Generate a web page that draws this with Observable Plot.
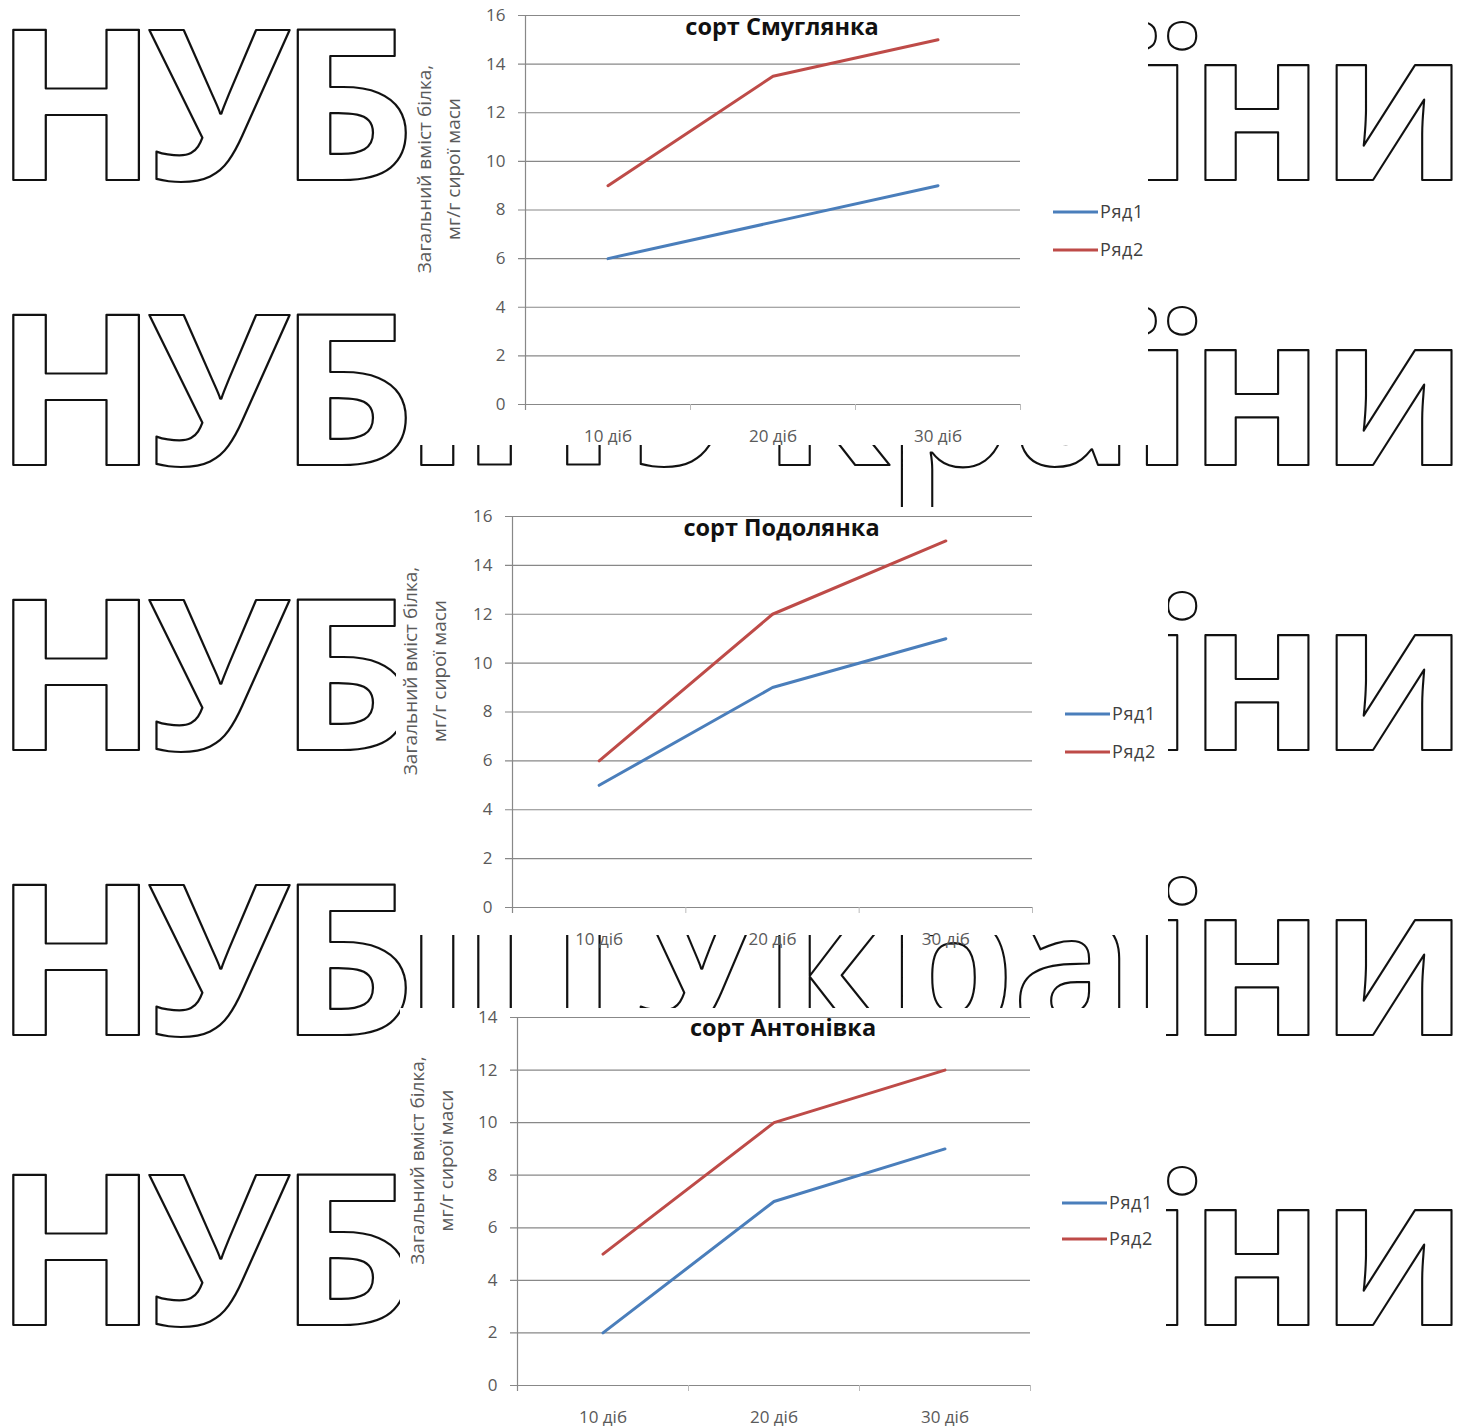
<!DOCTYPE html>
<html>
<head>
<meta charset="utf-8">
<script src="https://cdn.jsdelivr.net/npm/d3@7"></script>
<script src="https://cdn.jsdelivr.net/npm/@observablehq/plot@0.6"></script>
<style>
  html, body { margin: 0; padding: 0; background: #fff; }
  #page { position: relative; width: 1465px; height: 1426px; background: #fff; overflow: hidden; }
  #page > svg, #page > .abs { position: absolute; }
</style>
</head>
<body>
<div id="page"></div>
<script>
// ---------- data ----------
const categories = ["10 діб", "20 діб", "30 діб"];
const series = ["Ряд1", "Ряд2"];
const seriesColors = ["#4a7ebb", "#be4b48"];
const yTitle = "Загальний вміст білка,\nмг/г сирої маси";

const titleSmuglyanka = "сорт Смуглянка";
const smuglyankaRow1 = [6, 7.5, 9];
const smuglyankaRow2 = [9, 13.5, 15];

const titlePodolyanka = "сорт Подолянка";
const podolyankaRow1 = [5, 9, 11];
const podolyankaRow2 = [6, 12, 15];

const titleAntonivka = "сорт Антонівка";
const antonivkaRow1 = [2, 7, 9];
const antonivkaRow2 = [5, 10, 12];

const watermarkWords = ["НУБіП", "України"];

// ---------- watermark layer ----------
const page = d3.select("#page");
const wm = page.append("svg")
  .attr("width", 1465).attr("height", 1426)
  .style("left", "0px").style("top", "0px");

function styleWm(sel) {
  sel.attr("font-family", "Open Sans")
    .attr("font-weight", 700)
    .attr("font-size", 210)
    .attr("fill", "#fff")
    .attr("stroke", "#111")
    .attr("stroke-width", 2.2)
    .attr("stroke-linejoin", "round");
}

// measure natural word lengths to derive a tighter, wider letter layout
const probe = wm.append("text").call(styleWm);
const nat = watermarkWords.map(w => { probe.text(w); return probe.node().getComputedTextLength(); });
probe.remove();
const wordSpec = [
  {x: -6, len: 614, scale: (592 / nat[0]) * 1.13},
  {x: 632, len: 832, scale: (816 / nat[1]) * 1.05}
];
wordSpec.forEach((s, k) => {
  s.ls = (s.len / s.scale - nat[k]) / watermarkWords[k].length;
});

const baselines = [180, 465, 750, 1035, 1325];
baselines.forEach(b => {
  watermarkWords.forEach((w, k) => {
    wm.append("text").text(w)
      .attr("x", wordSpec[k].x).attr("y", b)
      .attr("letter-spacing", wordSpec[k].ls)
      .attr("textLength", wordSpec[k].len).attr("lengthAdjust", "spacingAndGlyphs")
      .call(styleWm);
  });
});

// white chart areas covering the watermark
[[413, 0, 735, 445], [396, 507, 772, 428], [400, 1008, 766, 418]].forEach(([x, y, w, h]) =>
  wm.append("rect").attr("x", x).attr("y", y).attr("width", w).attr("height", h).attr("fill", "#fff"));

// ---------- charts ----------
function chart(o) {
  const data = [
    ...o.r1.map((v, i) => ({series: series[0], i, value: v})),
    ...o.r2.map((v, i) => ({series: series[1], i, value: v}))
  ];
  const yTicks = d3.range(0, o.yMax + 1, 2);
  const svg = Plot.plot({
    width: o.width, height: o.height,
    marginLeft: o.mL, marginRight: o.mR, marginTop: o.mT, marginBottom: o.mB,
    style: {background: "transparent", overflow: "visible", fontFamily: "Open Sans", fontSize: "17px", color: "#5a5a5a"},
    x: {domain: [-0.5, 2.5], ticks: [0, 1, 2], tickFormat: i => categories[i], tickSize: 0, tickPadding: 25, label: null},
    y: {domain: [0, o.yMax], ticks: yTicks, tickSize: 0, tickPadding: 20, label: null},
    color: {domain: series, range: seriesColors},
    marks: [
      Plot.ruleY(yTicks, {stroke: "#888", strokeWidth: 1.2, insetLeft: -7}),
      Plot.ruleX([-0.5], {y1: () => o.yMax, y2: () => 0, stroke: "#888", strokeWidth: 1.2, insetBottom: -6}),
      Plot.ruleX([0.5, 1.5, 2.5], {y1: () => 0, y2: () => 0, stroke: "#bbb", strokeWidth: 1, insetBottom: -6}),
      Plot.line(data, {x: "i", y: "value", z: "series", stroke: "series", strokeWidth: 3}),
      Plot.text([o.title], {frameAnchor: "top", lineAnchor: "middle", dx: 9, dy: o.titleDy, fontSize: 23.5, fontWeight: "bold", fill: "#111"}),
      Plot.text([yTitle], {frameAnchor: "left", textAnchor: "middle", lineAnchor: "middle", rotate: -90,
        dx: o.ytDx, dy: -41, fontSize: 19, lineHeight: 1.5, fill: "#5a5a5a"})
    ]
  });
  d3.select(svg).style("left", o.left + "px").style("top", o.top + "px");
  document.getElementById("page").appendChild(svg);

  // legend
  const lg = page.append("svg").attr("class", "abs")
    .attr("width", 130).attr("height", 90)
    .style("left", o.legX + "px").style("top", o.legY + "px");
  series.forEach((s, k) => {
    const g = lg.append("g").attr("transform", `translate(0,${12 + k * o.legGap})`);
    g.append("line").attr("x1", 0).attr("x2", 45).attr("y1", 0).attr("y2", 0)
      .attr("stroke", seriesColors[k]).attr("stroke-width", 3);
    g.append("text").text(s).attr("x", 47).attr("y", 0).attr("dy", "0.35em")
      .attr("font-family", "Open Sans").attr("font-size", 18).attr("letter-spacing", 0.6).attr("fill", "#404040");
  });
}

chart({title: titleSmuglyanka, r1: smuglyankaRow1, r2: smuglyankaRow2, yMax: 16,
  left: 413, top: 0, width: 735, height: 445, mL: 112, mR: 128, mT: 15, mB: 41,
  titleDy: 12, ytDx: -89, legX: 1053, legY: 200, legGap: 38});

chart({title: titlePodolyanka, r1: podolyankaRow1, r2: podolyankaRow2, yMax: 16,
  left: 396, top: 507, width: 772, height: 428, mL: 116, mR: 136, mT: 9, mB: 28,
  titleDy: 12, ytDx: -90, legX: 1065, legY: 702, legGap: 38});

chart({title: titleAntonivka, r1: antonivkaRow1, r2: antonivkaRow2, yMax: 14,
  left: 400, top: 1008, width: 766, height: 418, mL: 117, mR: 136, mT: 9, mB: 41,
  titleDy: 11, ytDx: -88, legX: 1062, legY: 1191, legGap: 36});
</script>
</body>
</html>
